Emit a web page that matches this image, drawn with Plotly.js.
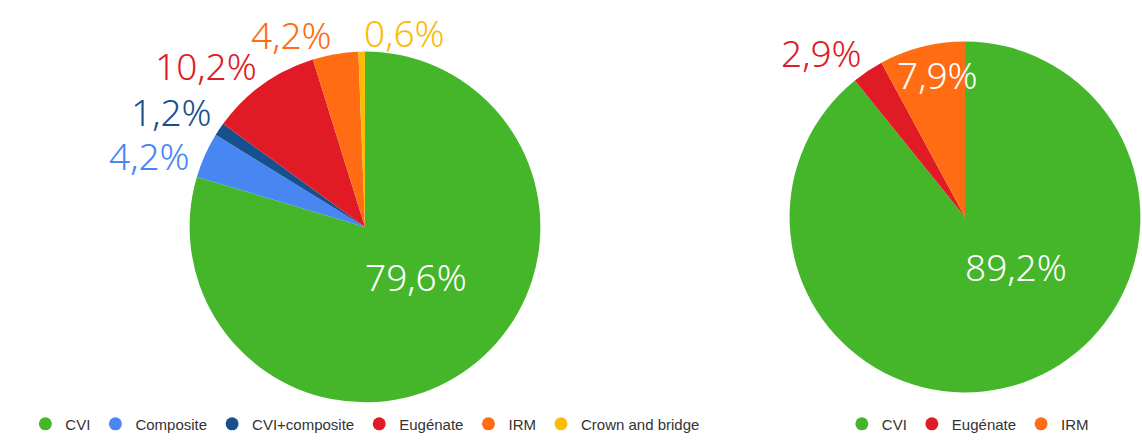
<!DOCTYPE html>
<html>
<head>
<meta charset="utf-8">
<script src="https://cdn.plot.ly/plotly-3.0.1.min.js"></script>
<style>html,body{margin:0;padding:0;background:#fff;overflow:hidden}</style>
</head>
<body>
<div id="chart" style="width:1142px;height:441px"></div>
<script>
// ---- data ----
const leftLabels = ['CVI', 'Composite', 'CVI+composite', 'Eugénate', 'IRM', 'Crown and bridge'];
const leftValues = [79.6, 4.2, 1.2, 10.2, 4.2, 0.6];
const rightLabels = ['CVI', 'Eugénate', 'IRM'];
const rightValues = [89.2, 2.9, 7.9];

// ---- styles ----
const leftColors = ['#45b52a', '#4886f2', '#174f8f', '#e01b25', '#ff6c14', '#fbbc06'];
const rightColors = ['#45b52a', '#e01b25', '#ff6c14'];
const leftLabelMode = ['main', 'outside', 'outside', 'outside', 'outside', 'outside'];
const rightLabelMode = ['main', 'outside', 'inside'];

const W = 1142, H = 441;
const leftDomain = {x: [0.1646, 0.4746], y: [0.0794, 0.8821]};
const rightDomain = {x: [0.69, 1.0], y: [0.102, 0.9048]};
const labelFont = {family: 'Noto Sans', size: 37, weight: 300};

function pieTrace(labels, values, colors, domain) {
  return {
    type: 'pie',
    labels: labels,
    values: values,
    sort: false,
    direction: 'clockwise',
    rotation: 0,
    marker: {colors: colors, line: {width: 0}},
    textinfo: 'none',
    showlegend: false,
    hoverinfo: 'label+percent',
    domain: domain
  };
}

function textWidth(t, size) {
  let w = 0;
  for (const ch of t) w += (ch === ',' ? 0.26 : ch === '%' ? 0.82 : 0.572);
  return w * size;
}

function pieLabels(values, colors, modes, dom) {
  const cx = (dom.x[0] + dom.x[1]) / 2 * W;
  const cy = (1 - (dom.y[0] + dom.y[1]) / 2) * H;
  const R = Math.min((dom.x[1] - dom.x[0]) * W, (dom.y[1] - dom.y[0]) * H) / 2;
  const total = values.reduce((a, b) => a + b, 0);
  const size = labelFont.size, capH = 0.714 * size, pad = 18;
  let cum = 0;
  const items = [];
  values.forEach((v, i) => {
    const frac = v / total;
    const mid = (cum + frac / 2) * 2 * Math.PI;
    cum += frac;
    items.push({i: i, mid: mid, txt: (frac * 100).toFixed(1).replace('.', ',') + '%'});
  });
  const anns = [];
  const ro = R + 5;
  const outs = items.filter(it => modes[it.i] === 'outside').map(it => {
    const s = Math.sin(it.mid), c = Math.cos(it.mid);
    const side = s < -0.05 ? 'right' : 'left';
    return Object.assign(it, {s: s, c: c, side: side,
      x: cx + ro * s, base: cy - ro * c, w: textWidth(it.txt, size)});
  });
  ['right', 'left'].forEach(side => {
    const grp = outs.filter(o => o.side === side && o.c > 0)
      .sort((a, b) => a.base - b.base);
    for (let k = 1; k < grp.length; k++) {
      const p = grp[k - 1], o = grp[k];
      const px0 = side === 'right' ? p.x - p.w : p.x, px1 = px0 + p.w;
      const ox0 = side === 'right' ? o.x - o.w : o.x, ox1 = ox0 + o.w;
      const hov = Math.min(px1, ox1) - Math.max(px0, ox0);
      if (hov > 15 && o.base - capH < p.base + pad) {
        o.base = p.base + capH + pad;
        const dy = cy - o.base;
        const dx = Math.sqrt(Math.max(ro * ro - dy * dy, 0));
        o.x = side === 'right' ? cx - dx : cx + dx;
      }
    }
  });
  items.forEach(it => {
    const i = it.i;
    let px, py, xa = 'center', ya = 'middle', col = '#ffffff', ys = 0;
    if (modes[i] === 'main') {
      const a = 136 * Math.PI / 180, r = 0.415 * R;
      px = cx + r * Math.sin(a); py = cy - r * Math.cos(a);
      ys = 3;
    } else if (modes[i] === 'inside') {
      const r = 0.81 * R, a = it.mid + 3 * Math.PI / 180;
      px = cx + r * Math.sin(a); py = cy - r * Math.cos(a);
      ys = 3;
    } else {
      px = it.x; py = it.base;
      xa = it.side;
      ya = it.c > 0 ? 'bottom' : 'top';
      ys = it.c > 0 ? -0.35 * size : 0;
      col = colors[i];
    }
    anns.push({
      xref: 'paper', yref: 'paper',
      x: px / W, y: 1 - py / H,
      xanchor: xa, yanchor: ya, yshift: ys,
      text: it.txt, showarrow: false,
      font: Object.assign({color: col}, labelFont)
    });
  });
  return anns;
}

function legendTraces(labels, colors, legendId) {
  return labels.map((l, i) => ({
    type: 'scatter',
    mode: 'markers',
    x: [null], y: [null],
    name: l,
    legend: legendId,
    marker: {color: colors[i], size: 13, symbol: 'circle'},
    showlegend: true,
    hoverinfo: 'skip'
  }));
}

const data = [
  pieTrace(leftLabels, leftValues, leftColors, leftDomain),
  pieTrace(rightLabels, rightValues, rightColors, rightDomain)
].concat(legendTraces(leftLabels, leftColors, 'legend'))
 .concat(legendTraces(rightLabels, rightColors, 'legend2'));

const legendFont = {family: 'Liberation Sans, Arial, sans-serif', size: 15, color: '#333333'};

const layout = {
  width: W,
  height: H,
  margin: {l: 0, r: 0, t: 0, b: 0},
  paper_bgcolor: '#ffffff',
  plot_bgcolor: '#ffffff',
  separators: ',.',
  showlegend: true,
  xaxis: {visible: false, domain: [0, 0.01]},
  yaxis: {visible: false, domain: [0, 0.01]},
  annotations: pieLabels(leftValues, leftColors, leftLabelMode, leftDomain)
    .concat(pieLabels(rightValues, rightColors, rightLabelMode, rightDomain)),
  legend: {
    orientation: 'h', x: 0.3195, xanchor: 'center', y: 0.0295, yanchor: 'middle',
    font: legendFont, tracegroupgap: 0, bgcolor: 'rgba(0,0,0,0)'
  },
  legend2: {
    orientation: 'h', x: 0.8475, xanchor: 'center', y: 0.0295, yanchor: 'middle',
    font: legendFont, tracegroupgap: 0, bgcolor: 'rgba(0,0,0,0)'
  }
};

Plotly.newPlot('chart', data, layout, {displayModeBar: false, staticPlot: true});
</script>
</body>
</html>
